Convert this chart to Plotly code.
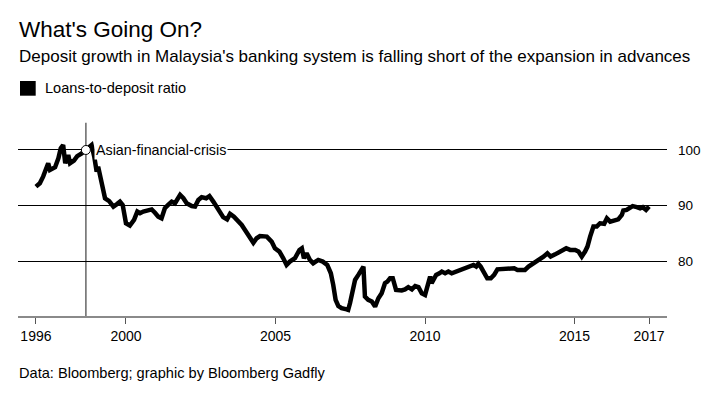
import plotly.graph_objects as go

# ---- data (decimal year, loans-to-deposit ratio %) ----
years = [1996.99, 1997.12, 1997.23, 1997.40, 1997.46, 1997.63, 1997.74, 1997.82, 1997.90, 1997.97,
         1998.07, 1998.13, 1998.26, 1998.37, 1998.52, 1998.63, 1998.74, 1998.85, 1998.94, 1999.02,
         1999.07, 1999.19, 1999.30, 1999.44, 1999.58, 1999.71, 1999.80, 1999.89, 2000.00, 2000.13,
         2000.27, 2000.38, 2000.47, 2000.58, 2000.75, 2000.86, 2000.97, 2001.08, 2001.19, 2001.30,
         2001.41, 2001.53, 2001.64, 2001.81, 2001.92, 2002.03, 2002.20, 2002.31, 2002.42, 2002.53,
         2002.68, 2002.79, 2002.92, 2003.03, 2003.14, 2003.25, 2003.38, 2003.48, 2003.61, 2003.72,
         2003.87, 2003.98, 2004.09, 2004.26, 2004.37, 2004.48, 2004.71, 2004.87, 2004.98, 2005.13,
         2005.26, 2005.37, 2005.48, 2005.65, 2005.80, 2005.88, 2005.95, 2006.04, 2006.15, 2006.26,
         2006.43, 2006.58, 2006.73, 2006.85, 2006.93, 2007.01, 2007.10, 2007.21, 2007.38, 2007.43,
         2007.49, 2007.57, 2007.66, 2007.77, 2007.85, 2007.94, 2007.99, 2008.10, 2008.22, 2008.33,
         2008.44, 2008.55, 2008.66, 2008.74, 2008.83, 2008.92, 2009.03, 2009.22, 2009.33, 2009.44,
         2009.56, 2009.67, 2009.78, 2009.89, 2010.00, 2010.17, 2010.22, 2010.37, 2010.48, 2010.56,
         2010.67, 2010.78, 2010.89, 2011.06, 2011.17, 2011.34, 2011.45, 2011.62, 2011.71, 2011.78,
         2011.86, 2011.97, 2012.08, 2012.20, 2012.31, 2012.42, 2012.62, 2012.84, 2012.98, 2013.09,
         2013.23, 2013.34, 2013.46, 2013.57, 2013.74, 2013.85, 2013.96, 2014.09, 2014.20, 2014.35,
         2014.46, 2014.57, 2014.72, 2014.85, 2015.02, 2015.13, 2015.24, 2015.35, 2015.43, 2015.52,
         2015.63, 2015.74, 2015.85, 2015.99, 2016.08, 2016.19, 2016.35, 2016.46, 2016.58, 2016.63,
         2016.74, 2016.86, 2016.94, 2017.08, 2017.19, 2017.28, 2017.39, 2017.49]
ratio = [93.4, 94.0, 95.2, 97.6, 96.4, 96.9, 98.5, 100.3, 100.9, 97.6,
         99.1, 97.6, 98.1, 98.9, 99.4, 99.9, 100.6, 100.9, 98.8, 96.1,
         97.0, 94.0, 91.3, 90.8, 89.8, 90.3, 90.7, 90.1, 86.8, 86.4,
         87.4, 88.9, 88.6, 88.9, 89.1, 89.3, 88.7, 88.0, 87.7, 89.5,
         90.1, 90.7, 90.4, 91.9, 91.3, 90.4, 89.9, 89.8, 91.0, 91.5,
         91.3, 91.7, 90.7, 89.8, 88.6, 87.9, 87.5, 88.5, 88.0, 87.4,
         86.5, 85.6, 84.7, 83.3, 84.1, 84.5, 84.4, 83.5, 82.3, 81.7,
         80.5, 79.3, 79.9, 80.5, 82.0, 82.3, 80.5, 81.4, 80.2, 79.6,
         80.2, 79.9, 79.3, 77.8, 75.7, 73.0, 71.9, 71.5, 71.3, 71.2,
         72.4, 74.8, 76.6, 77.5, 78.1, 79.0, 73.6, 73.0, 72.7, 71.8,
         73.3, 74.2, 76.0, 76.3, 76.9, 76.9, 74.8, 74.7, 74.9, 75.3,
         74.9, 75.5, 75.3, 74.2, 73.9, 77.2, 76.0, 77.5, 77.8, 78.1,
         77.8, 78.1, 77.8, 78.1, 78.3, 78.7, 79.0, 79.3, 79.0, 79.5,
         79.0, 78.1, 76.9, 76.9, 77.5, 78.5, 78.6, 78.6, 78.7, 78.4,
         78.5, 78.4, 79.0, 79.4, 79.9, 80.2, 80.8, 81.4, 80.8, 81.2,
         81.5, 82.0, 82.3, 82.0, 82.0, 81.7, 80.8, 81.7, 82.6, 84.4,
         86.2, 86.2, 86.8, 86.7, 87.7, 87.1, 87.4, 87.5, 88.3, 89.1,
         89.2, 89.5, 89.9, 89.7, 89.5, 89.7, 89.2, 89.8]

tick_text = ["1996", "2000", "2005", "2010", "2015", "2017"]
y_ticks = [80, 90, 100]
crisis_year = 1998.66
crisis_value = 100
series_name = "Loans-to-deposit ratio"

FONT = "Liberation Sans, Arial, sans-serif"

fig = go.Figure()
fig.add_trace(go.Scatter(
    x=years, y=ratio, mode="lines", name=series_name, showlegend=False,
    line=dict(color="#000000", width=4.5, shape="linear"),
))
# crisis marker
fig.add_trace(go.Scatter(
    x=[crisis_year], y=[crisis_value], mode="markers", showlegend=False,
    marker=dict(size=9, color="white", line=dict(color="#000000", width=1)),
))

tickvals = [years[0], 2000, 2005, 2010, 2015, years[-1]]

fig.update_layout(
    width=720, height=393,
    margin=dict(l=18, r=53, t=110, b=77),
    paper_bgcolor="white", plot_bgcolor="white",
    font=dict(family=FONT, color="#000000", size=13),
    xaxis=dict(
        range=[1996.39, 2018.09], tickvals=tickvals, ticktext=tick_text,
        showgrid=False, zeroline=False,
        showline=True, linecolor="#8a8a8a", linewidth=2,
        ticks="outside", ticklen=6, tickwidth=1, tickcolor="#555555",
        tickfont=dict(size=14, family=FONT, color="#000000"),
    ),
    yaxis=dict(
        range=[70.1, 107.2], tickvals=y_ticks, side="right",
        showgrid=True, gridcolor="#000000", gridwidth=1,
        zeroline=False, showline=False, ticks="",
        ticklabelstandoff=10,
        tickfont=dict(size=13.5, family=FONT, color="#000000"),
    ),
)

# vertical crisis line
fig.add_shape(type="line", xref="x", yref="y", x0=crisis_year, x1=crisis_year,
              y0=70.1, y1=104.9, line=dict(color="#666666", width=1.5), layer="below")

fig.add_annotation(x=crisis_year, y=crisis_value, xref="x", yref="y",
                   text="Asian-financial-crisis", showarrow=False,
                   xanchor="left", yanchor="middle", xshift=8,
                   bgcolor="white", borderpad=1,
                   font=dict(size=14.3, family=FONT, color="#000000"))

# title / subtitle / legend / source
fig.add_annotation(xref="paper", yref="paper", x=0, y=(316 - 30) / 206,
                   text="What's Going On?", showarrow=False,
                   xanchor="left", yanchor="middle", xshift=-1,
                   font=dict(size=22.5, family=FONT, color="#000000"))
fig.add_annotation(xref="paper", yref="paper", x=0, y=(316 - 57) / 206,
                   text="Deposit growth in Malaysia's banking system is falling short of the expansion in advances",
                   showarrow=False, xanchor="left", yanchor="middle", xshift=-1,
                   font=dict(size=17, family=FONT, color="#000000"))
fig.add_shape(type="rect", xref="paper", yref="paper",
              x0=(20 - 18) / 649, x1=(35.7 - 18) / 649,
              y0=(316 - 95.7) / 206, y1=(316 - 81) / 206,
              fillcolor="#000000", line=dict(width=0))
fig.add_annotation(xref="paper", yref="paper", x=(43 - 18) / 649, y=(316 - 88.5) / 206,
                   text=series_name, showarrow=False,
                   xanchor="left", yanchor="middle",
                   font=dict(size=14.6, family=FONT, color="#000000"))
fig.add_annotation(xref="paper", yref="paper", x=0, y=(316 - 373) / 206,
                   text="Data: Bloomberg; graphic by Bloomberg Gadfly", showarrow=False,
                   xanchor="left", yanchor="middle", xshift=-1,
                   font=dict(size=14.6, family=FONT, color="#000000"))

fig.write_html("out.html", config={"displayModeBar": False},
               post_script="document.body.style.margin='0';")
